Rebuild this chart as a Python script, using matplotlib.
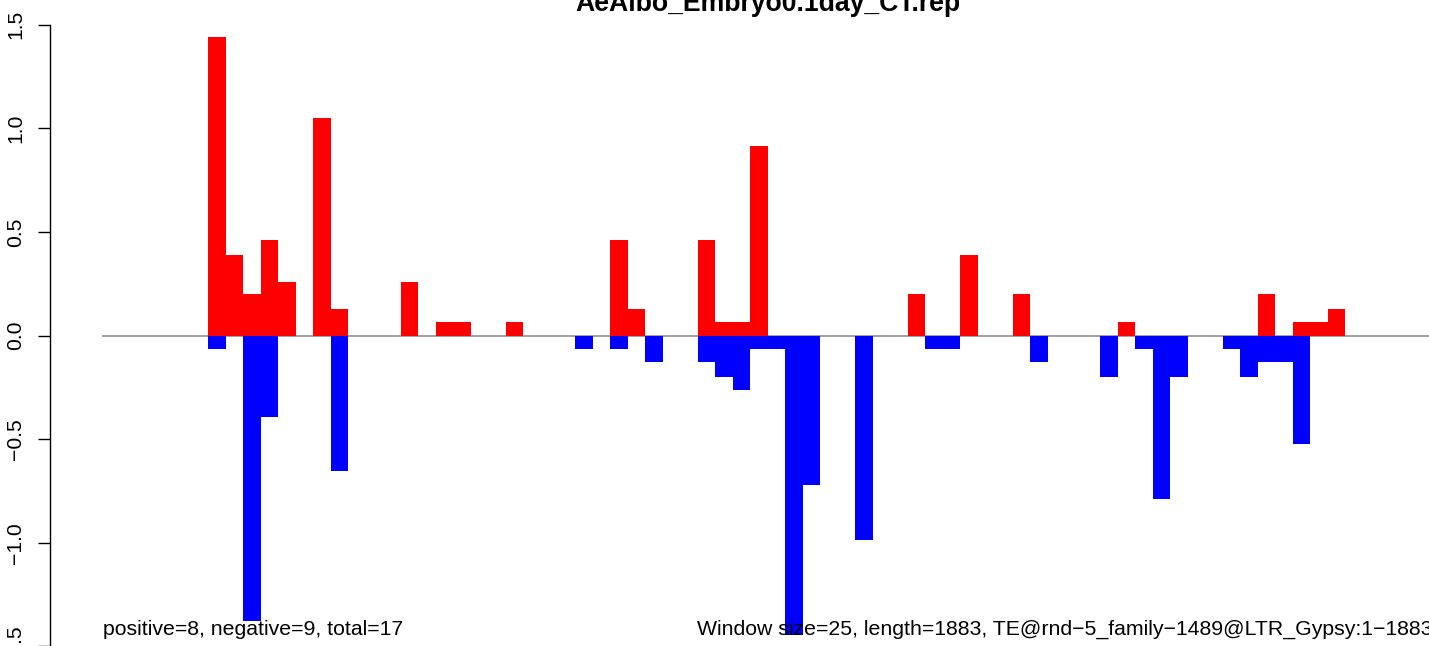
import matplotlib
matplotlib.use("Agg")
import matplotlib.pyplot as plt

plt.rcParams['font.family'] = ['Liberation Sans', 'DejaVu Sans']

title = "AeAlbo_Embryo0.1day_CT.rep"
left_note = "positive=8, negative=9, total=17"
right_note = "Window size=25, length=1883, TE@rnd\u22125_family\u22121489@LTR_Gypsy:1\u22121883"

window = 25
seq_end = 1900  # 76 windows * 25

# positive (red) windows: start position (bp) and value
pos_start = [150, 175, 200, 225, 250, 300, 325, 425, 475, 500, 575, 725, 750,
             850, 875, 900, 925, 1150, 1225, 1300, 1450, 1650, 1700, 1725, 1750]
pos_value = [1.44, 0.39, 0.20, 0.46, 0.26, 1.05, 0.13, 0.26, 0.066, 0.066, 0.066, 0.46, 0.13,
             0.46, 0.066, 0.066, 0.915, 0.20, 0.39, 0.20, 0.066, 0.20, 0.066, 0.066, 0.13]

# negative (blue) windows
neg_start = [150, 200, 225, 325, 675, 725, 775, 850, 875, 900, 925, 950, 975, 1000,
             1075, 1175, 1200, 1325, 1425, 1475, 1500, 1525, 1600, 1625, 1650, 1675, 1700]
neg_value = [-0.066, -1.375, -0.395, -0.655, -0.066, -0.066, -0.13, -0.13, -0.20, -0.265,
             -0.066, -0.066, -1.445, -0.72, -0.985, -0.066, -0.066, -0.13, -0.20, -0.066,
             -0.787, -0.20, -0.066, -0.20, -0.13, -0.13, -0.525]

yticks = [-1.5, -1.0, -0.5, 0.0, 0.5, 1.0, 1.5]
ytick_labels = ["\u22121.5", "\u22121.0", "\u22120.5", "0.0", "0.5", "1.0", "1.5"]

W, H, DPI = 1429, 646, 100
fig = plt.figure(figsize=(W / DPI, H / DPI), dpi=DPI)

xlo, xhi = -76, 1976
ylo, yhi = -1.62, 1.62
ax_left_px, ax_right_px = 50, 1485.8
y0_px, yscale = 335.5, 207.3
ax_top_px = y0_px - yhi * yscale
ax_h_px = (yhi - ylo) * yscale
ax = fig.add_axes([ax_left_px / W, (H - (ax_top_px + ax_h_px)) / H,
                   (ax_right_px - ax_left_px) / W, ax_h_px / H])
ax.set_xlim(xlo, xhi)
ax.set_ylim(ylo, yhi)

ax.bar(neg_start, neg_value, width=window, align='edge', color='#0000FF', linewidth=0)
ax.bar(pos_start, pos_value, width=window, align='edge', color='#FF0000', linewidth=0)
ax.plot([0, seq_end], [0, 0], color='#999999', linewidth=1.3, zorder=0.5)

for s in ['top', 'right', 'bottom']:
    ax.spines[s].set_visible(False)
ax.spines['left'].set_bounds(-1.5, 1.5)
ax.spines['left'].set_linewidth(1.0)
ax.set_xticks([])
ax.set_yticks(yticks)
ax.set_yticklabels(ytick_labels, rotation=90, va='center', fontsize=15.2)
ax.tick_params(axis='y', length=9, width=1.0, pad=9)

ax.text(0, -1.445, left_note, ha='left', va='baseline', fontsize=15.3)
ax.text(seq_end, -1.445, right_note, ha='right', va='baseline', fontsize=15.3)

fig.text(767.8 / W, 1 - 11 / H, title, ha='center', va='baseline',
         fontsize=19.2, fontweight='bold')

fig.savefig("out.png", dpi=DPI)
